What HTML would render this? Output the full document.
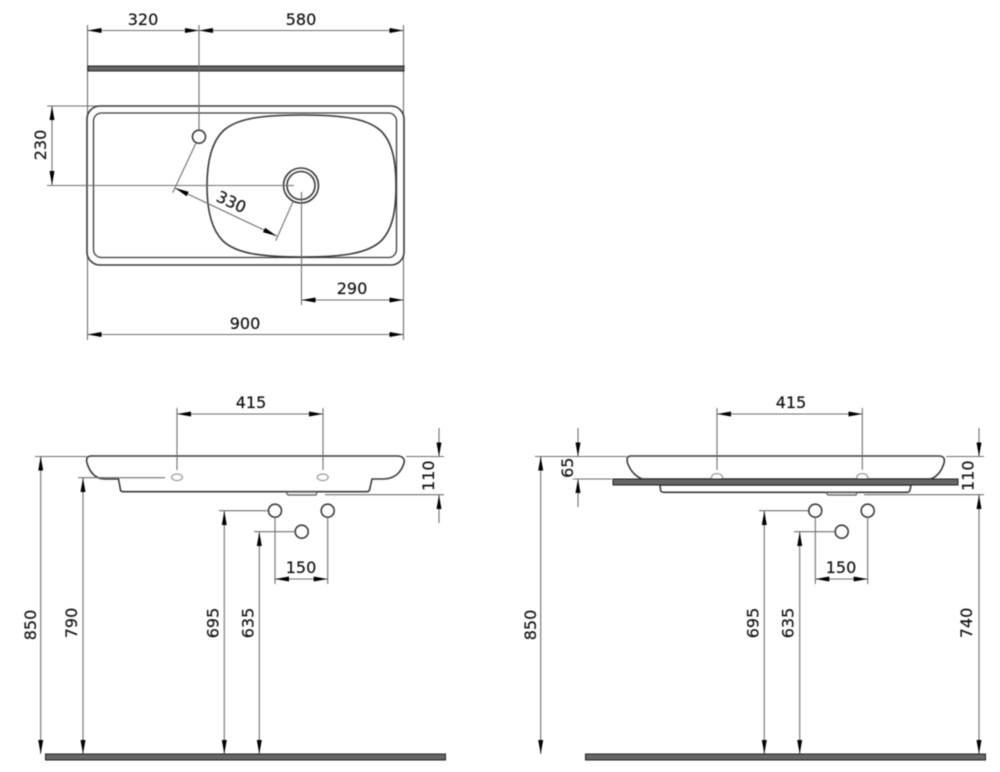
<!DOCTYPE html>
<html><head><meta charset="utf-8"><style>
html,body{margin:0;padding:0;background:#fff}
svg{display:block;filter:blur(.4px)}
text{font-family:"DejaVu Sans",sans-serif;font-size:16px;fill:#111;stroke:#111;stroke-width:.2;text-anchor:middle}
.d{stroke:#6f6f6f;stroke-width:1.1;fill:none}
.o{stroke:#3a3a3a;stroke-width:1.6;fill:#fff}
.g{stroke:#999;stroke-width:1.2;fill:#fff}
.b{fill:#666;stroke:#222;stroke-width:1}
</style></head><body>
<svg width="1000" height="772" viewBox="0 0 1000 772" xmlns="http://www.w3.org/2000/svg">
<defs><marker id="a" markerUnits="userSpaceOnUse" markerWidth="15" markerHeight="10" refX="14" refY="5" orient="auto-start-reverse"><path d="M0 2.5L14 5L0 7.5Z" fill="#000"/></marker></defs>

<!-- TOP VIEW -->
<g class="d">
<path d="M87.5 25V340M403.5 25V340M47 106H100"/>
</g>
<rect class="b" x="88" y="66" width="316" height="5"/>
<rect class="o" x="87" y="106" width="317" height="159" rx="13"/>
<rect class="o" x="93.5" y="113" width="303" height="144.5" rx="8" style="stroke-width:1.3"/>
<path class="o" d="M302 115C345 115 368 119 381 131C392 142 396 160 396 186C396 212 392 230 381 241C368 253 345 257 302 257C259 257 236 253 223 241C212 230 207 212 207 186C207 160 212 142 223 131C236 119 259 115 302 115Z"/>
<circle class="o" cx="199" cy="136.7" r="6.5"/>
<circle class="o" cx="301" cy="185.5" r="17.5"/>
<circle class="o" cx="301" cy="185.5" r="14"/>
<g class="d">
<path d="M47 185.5H294M196 143L172.7 192.7M293 201.7L275.7 240.7M301.5 192V305M199 25V130"/>
<line x1="87.5" y1="30.5" x2="199" y2="30.5" marker-start="url(#a)" marker-end="url(#a)"/>
<line x1="199" y1="30.5" x2="403.5" y2="30.5" marker-start="url(#a)" marker-end="url(#a)"/>
<line x1="52" y1="106" x2="52" y2="185" marker-start="url(#a)" marker-end="url(#a)"/>
<line x1="175" y1="188" x2="276.7" y2="236" marker-start="url(#a)" marker-end="url(#a)"/>
<line x1="301.5" y1="300" x2="403.5" y2="300" marker-start="url(#a)" marker-end="url(#a)"/>
<line x1="87.5" y1="334.5" x2="403.5" y2="334.5" marker-start="url(#a)" marker-end="url(#a)"/>
</g>
<text x="143" y="25">320</text>
<text x="301" y="25">580</text>
<text x="352" y="294">290</text>
<text x="245" y="329">900</text>
<text transform="translate(46,145) rotate(-90)">230</text>
<text transform="translate(229,207) rotate(25)">330</text>

<!-- LEFT FRONT VIEW -->
<path class="o" d="M91 456H397C403 456 405 459 404 463C401 473 394 479 383 479H372L369.5 490Q369 491.7 366 491.7H123Q121 491.7 120.5 490L118.5 479H105C96 479 90 473 87 463C86 459 87 456 91 456Z"/>
<path class="g" d="M286 492H317L316 495H288Z" style="stroke:#555"/>
<ellipse class="g" cx="177" cy="477.3" rx="5.5" ry="3.3"/>
<ellipse class="g" cx="322.7" cy="477.3" rx="5.5" ry="3.3"/>
<circle class="o" cx="275" cy="510.7" r="6.5"/>
<circle class="o" cx="327.7" cy="510.7" r="6.5"/>
<circle class="o" cx="301.7" cy="531.7" r="6.5"/>
<g class="d">
<path d="M177 408V470M323 408V470M406 456.5H444M325 494.7H444M35 456.5H87M78 477.7H165M219 510.7H268M254 531.7H295M275 517V584M327.7 517V584"/>
<line x1="177" y1="414" x2="323" y2="414" marker-start="url(#a)" marker-end="url(#a)"/>
<line x1="439" y1="428" x2="439" y2="456.5" marker-end="url(#a)"/>
<line x1="439" y1="523" x2="439" y2="495" marker-end="url(#a)"/>
<line x1="275" y1="579" x2="327.7" y2="579" marker-start="url(#a)" marker-end="url(#a)"/>
<line x1="40.7" y1="456.5" x2="40.7" y2="754" marker-start="url(#a)" marker-end="url(#a)"/>
<line x1="83" y1="478" x2="83" y2="754" marker-start="url(#a)" marker-end="url(#a)"/>
<line x1="224.3" y1="511" x2="224.3" y2="754" marker-start="url(#a)" marker-end="url(#a)"/>
<line x1="259.3" y1="532" x2="259.3" y2="754" marker-start="url(#a)" marker-end="url(#a)"/>
</g>
<rect class="b" x="45.5" y="754" width="400" height="6"/>
<text x="251" y="408">415</text>
<text x="301" y="573">150</text>
<text transform="translate(434,475.7) rotate(-90)">110</text>
<text transform="translate(36,625) rotate(-90)">850</text>
<text transform="translate(77,623) rotate(-90)">790</text>
<text transform="translate(218.5,623) rotate(-90)">695</text>
<text transform="translate(253.5,623) rotate(-90)">635</text>

<!-- RIGHT FRONT VIEW -->
<path class="o" d="M631 456H939C944 456 945 459 944 463C942 470 938 476 931 479H642C635 476 630 470 627.5 463C626.5 459 627 456 631 456Z"/>
<ellipse class="g" cx="717" cy="477.5" rx="5.5" ry="4"/>
<ellipse class="g" cx="862.3" cy="477.5" rx="5.5" ry="4"/>
<path class="o" d="M660 485H911L910 490Q909.5 492.3 907 492.3H664Q661 492.3 660.5 490Z"/>
<path class="g" d="M826 492.5H857L856 495H828Z" style="stroke:#555"/>
<rect class="b" x="613" y="479" width="345" height="6"/>
<circle class="o" cx="815.3" cy="510.7" r="6.5"/>
<circle class="o" cx="867.7" cy="510.7" r="6.5"/>
<circle class="o" cx="841.7" cy="531.7" r="6.5"/>
<g class="d">
<path d="M717 408V470M862.3 408V470M535 456.5H627M573 479H612M946 456.5H984M864 494.7H984M759 510.7H808M794 531.7H835M815.3 517V584M867.7 517V584"/>
<line x1="717" y1="414" x2="862.3" y2="414" marker-start="url(#a)" marker-end="url(#a)"/>
<line x1="578" y1="428" x2="578" y2="456.5" marker-end="url(#a)"/>
<line x1="578" y1="507" x2="578" y2="479" marker-end="url(#a)"/>
<line x1="979" y1="428" x2="979" y2="456.5" marker-end="url(#a)"/>
<line x1="979" y1="495" x2="979" y2="754" marker-start="url(#a)" marker-end="url(#a)"/>
<line x1="815.3" y1="579" x2="867.7" y2="579" marker-start="url(#a)" marker-end="url(#a)"/>
<line x1="540.7" y1="456.5" x2="540.7" y2="754" marker-start="url(#a)" marker-end="url(#a)"/>
<line x1="764.3" y1="511" x2="764.3" y2="754" marker-start="url(#a)" marker-end="url(#a)"/>
<line x1="799.7" y1="532" x2="799.7" y2="754" marker-start="url(#a)" marker-end="url(#a)"/>
</g>
<rect class="b" x="585.5" y="754" width="400" height="6"/>
<text x="791" y="408">415</text>
<text x="841" y="573">150</text>
<text transform="translate(573,467.7) rotate(-90)">65</text>
<text transform="translate(973.5,475.7) rotate(-90)">110</text>
<text transform="translate(536,625) rotate(-90)">850</text>
<text transform="translate(758.5,623) rotate(-90)">695</text>
<text transform="translate(793.5,623) rotate(-90)">635</text>
<text transform="translate(972,623) rotate(-90)">740</text>
</svg>
</body></html>
